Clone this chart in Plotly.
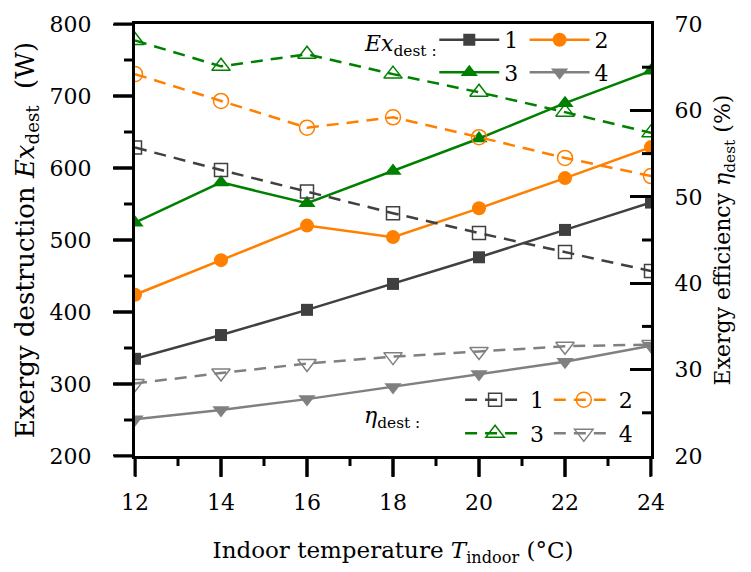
import plotly.graph_objects as go

T_indoor = [12, 14, 16, 18, 20, 22, 24]

ex_1 = [335, 368, 403, 439, 476, 514, 552]
ex_2 = [424, 472, 520, 504, 544, 586, 629]
ex_3 = [524, 580, 551, 596, 641, 690, 735]
ex_4 = [251, 264, 279, 296, 314, 331, 353]

eta_1 = [55.7, 53.1, 50.6, 48.1, 45.8, 43.6, 41.4]
eta_2 = [64.2, 61.1, 58.0, 59.2, 56.9, 54.5, 52.4]
eta_3 = [68.1, 65.1, 66.5, 64.2, 62.1, 59.8, 57.4]
eta_4 = [28.4, 29.6, 30.7, 31.5, 32.1, 32.7, 32.9]

# tick positions
x_major = [12, 14, 16, 18, 20, 22, 24]
x_minor = [13, 15, 17, 19, 21, 23]
ex_major = [200, 300, 400, 500, 600, 700, 800]
ex_minor = [250, 350, 450, 550, 650, 750]
eta_major = [20, 30, 40, 50, 60, 70]
eta_minor = [25, 35, 45, 55, 65]

labels = ["1", "2", "3", "4"]
colors = ["#404040", "#ff8000", "#008000", "#808080"]
ex_symbols = ["square", "circle", "triangle-up", "triangle-down"]
eta_symbols = ["square-open", "circle-open", "triangle-up-open", "triangle-down-open"]
marker_sizes = [12, 14, 15, 15]

FONT = "DejaVu Serif"
FS = 22

fig = go.Figure()

ex_series = [ex_1, ex_2, ex_3, ex_4]
eta_series = [eta_1, eta_2, eta_3, eta_4]

for i in range(4):
    fig.add_trace(go.Scatter(
        x=T_indoor, y=eta_series[i], name=labels[i], yaxis="y2",
        mode="lines+markers", legend="legend%d" % (i + 5),
        line=dict(color=colors[i], width=2.5, dash="12px,8px"),
        marker=dict(symbol=eta_symbols[i], size=marker_sizes[i] + 1, color=colors[i],
                    line=dict(width=1.5, color=colors[i])),
    ))

for i in range(4):
    fig.add_trace(go.Scatter(
        x=T_indoor, y=ex_series[i], name=labels[i], yaxis="y",
        mode="lines+markers", legend=("legend" if i == 0 else "legend%d" % (i + 1)),
        line=dict(color=colors[i], width=2.5),
        marker=dict(symbol=ex_symbols[i], size=marker_sizes[i], color=colors[i],
                    line=dict(width=0)),
    ))

leg_common = dict(orientation="h", bgcolor="rgba(0,0,0,0)", font=dict(family=FONT, size=FS, color="black"),
                  itemwidth=60, xanchor="left", yanchor="middle", xref="paper", yref="paper")

ex_row1, ex_row2 = 0.963, 0.888
ex_col1, ex_col2 = 0.58, 0.755
eta_row1, eta_row2 = 0.13, 0.052
eta_col1, eta_col2 = 0.63, 0.802

tick_line = dict(color="black", width=3)
shapes = []
annotations = []


def x_tick(v, length):
    shapes.append(dict(type="line", xref="x", yref="paper", x0=v, x1=v,
                       ysizemode="pixel", yanchor=0, y0=0, y1=-length, line=tick_line, layer="above"))


def y_tick(v, length):
    shapes.append(dict(type="line", xref="paper", yref="y", y0=v, y1=v,
                       xsizemode="pixel", xanchor=0, x0=0, x1=-length, line=tick_line, layer="above"))


def x_tick_arrow(v, length):
    annotations.append(dict(text="", x=v, y=0, xref="x", yref="paper", ax=0, ay=length,
                            showarrow=True, arrowhead=0, arrowwidth=3, arrowcolor="black",
                            standoff=0, startstandoff=0, font=dict(size=1)))


def y_tick_arrow(v, length):
    annotations.append(dict(text="", x=0, y=v, xref="paper", yref="y", ax=-length, ay=0,
                            showarrow=True, arrowhead=0, arrowwidth=3, arrowcolor="black",
                            standoff=0, startstandoff=0, font=dict(size=1)))


for v in x_major:
    x_tick(v, 21)
    x_tick_arrow(v, 22)
for v in x_minor:
    x_tick(v, 10)
for v in ex_major:
    y_tick(v, 22)
    y_tick_arrow(v, 23)
for v in ex_minor:
    y_tick(v, 11)
for v in eta_minor:
    shapes.append(dict(type="line", xref="paper", yref="y2", y0=v, y1=v,
                       xsizemode="pixel", xanchor=1, x0=0, x1=-9, line=tick_line, layer="above"))

annotations += [
    dict(text="<i>Ex</i><sub>dest :</sub>", x=0.44, y=0.95, xref="paper", yref="paper",
         xanchor="left", yanchor="middle", showarrow=False, font=dict(family=FONT, size=22)),
    dict(text="<i>η</i><sub>dest :</sub>", x=0.44, y=0.09, xref="paper", yref="paper",
         xanchor="left", yanchor="middle", showarrow=False, font=dict(family=FONT, size=22)),
]

fig.update_layout(
    width=751, height=572,
    margin=dict(l=135, r=100, t=22, b=115),
    plot_bgcolor="white", paper_bgcolor="white",
    font=dict(family=FONT, size=FS, color="black"),
    showlegend=True,
    legend=dict(**leg_common, x=ex_col1, y=ex_row1),
    legend2=dict(**leg_common, x=ex_col2, y=ex_row1),
    legend3=dict(**leg_common, x=ex_col1, y=ex_row2),
    legend4=dict(**leg_common, x=ex_col2, y=ex_row2),
    legend5=dict(**leg_common, x=eta_col1, y=eta_row1),
    legend6=dict(**leg_common, x=eta_col2, y=eta_row1),
    legend7=dict(**leg_common, x=eta_col1, y=eta_row2),
    legend8=dict(**leg_common, x=eta_col2, y=eta_row2),
    shapes=shapes,
    annotations=annotations,
    xaxis=dict(
        range=[12, 24], tickvals=x_major,
        showline=True, linecolor="black", linewidth=3, mirror=True,
        ticks="", showgrid=False, zeroline=False,
        tickfont=dict(family=FONT, size=FS), ticklabelstandoff=25,
        title=dict(text="Indoor temperature <i>T</i><sub>indoor</sub> (°C)", font=dict(family=FONT, size=23), standoff=28),
    ),
    yaxis=dict(
        range=[200, 800], tickvals=ex_major,
        showline=True, linecolor="black", linewidth=3,
        ticks="", showgrid=False, zeroline=False,
        tickfont=dict(family=FONT, size=FS), ticklabelstandoff=36,
        title=dict(text="Exergy destruction <i>Ex</i><sub>dest</sub>&nbsp;&nbsp;(W)", font=dict(family=FONT, size=26), standoff=8),
    ),
    yaxis2=dict(
        range=[20, 70], tickvals=eta_major,
        overlaying="y", side="right",
        showline=True, linecolor="black", linewidth=3,
        ticks="inside", ticklen=21, tickwidth=3, tickcolor="black",
        showgrid=False, zeroline=False,
        tickfont=dict(family=FONT, size=FS),
        ticklabelstandoff=16,
        title=dict(text="Exergy efficiency <i>η</i><sub>dest</sub> (%)", font=dict(family=FONT, size=22), standoff=14),
    ),
)

fig.write_html("out.html", config={"staticPlot": True})
